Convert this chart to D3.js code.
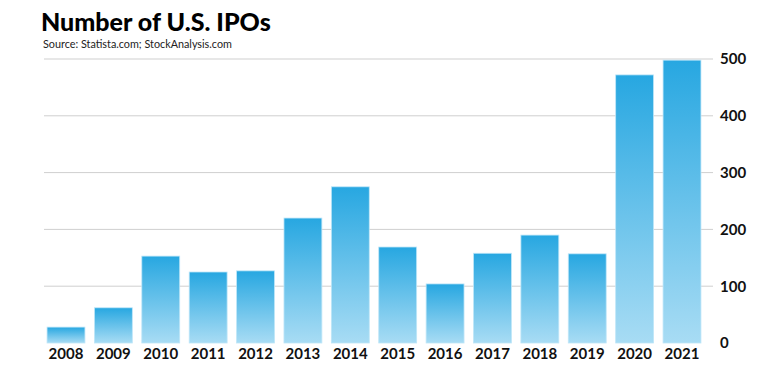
<!DOCTYPE html>
<html>
<head>
<meta charset="utf-8">
<script src="https://cdn.jsdelivr.net/npm/d3@7"></script>
<style>
  body { margin: 0; background: #fff; }
  text { font-family: "Lato", "Open Sans", sans-serif; }
</style>
</head>
<body>
<div id="chart"></div>
<script>
let years = ["2008","2009","2010","2011","2012","2013","2014","2015","2016","2017","2018","2019","2020","2021"];
let ipos = [28, 62, 153, 125, 127, 220, 275, 169, 104, 158, 190, 157, 472, 498];
let ticks = [0, 100, 200, 300, 400, 500];

let width = 772, height = 384;

let svg = d3.select("#chart")
    .append("svg")
    .attr("width", width)
    .attr("height", height);

let defs = svg.append("defs");
let grad = defs.append("linearGradient")
    .attr("id", "barGrad")
    .attr("x1", 0).attr("y1", 0).attr("x2", 0).attr("y2", 1);
grad.append("stop").attr("offset", "0%").attr("stop-color", "#27a7e1");
grad.append("stop").attr("offset", "100%").attr("stop-color", "#a8dcf4");

let x = d3.scaleBand()
    .domain(years)
    .range([42.3, 705.7])
    .paddingInner(0.2)
    .paddingOuter(0.1);

let y = d3.scaleLinear()
    .domain([0, 500])
    .range([343, 59]);

// gridlines
svg.append("g")
    .selectAll("line")
    .data(ticks.filter(d => d > 0))
    .enter().append("line")
    .attr("x1", 44)
    .attr("x2", 713)
    .attr("y1", d => y(d))
    .attr("y2", d => y(d))
    .attr("stroke", "#cfcfcf")
    .attr("stroke-width", 1);

// bars
svg.selectAll("rect.bar")
    .data(years)
    .enter().append("rect")
    .attr("class", "bar")
    .attr("x", d => x(d))
    .attr("y", (d, i) => y(ipos[i]))
    .attr("width", x.bandwidth())
    .attr("height", (d, i) => y(0) - y(ipos[i]))
    .attr("fill", "url(#barGrad)")
    .attr("stroke", "#bfe6f8")
    .attr("stroke-width", 0.8);

// right axis
let yAxis = svg.append("g")
    .attr("transform", "translate(720,0)")
    .call(d3.axisRight(y).tickValues(ticks).tickSize(0).tickPadding(0));
yAxis.select(".domain").remove();
yAxis.selectAll("text")
    .attr("text-anchor", "start")
    .style("font-size", "15px")
    .style("font-weight", "bold")
    .style("fill", "#111");

// bottom axis
let xAxis = svg.append("g")
    .attr("transform", "translate(0,348)")
    .call(d3.axisBottom(x).tickSize(0).tickPadding(0));
xAxis.select(".domain").remove();
xAxis.selectAll("text")
    .attr("dy", "0.71em")
    .style("font-size", "15px")
    .style("font-weight", "bold")
    .style("fill", "#111");

// title
svg.append("text")
    .attr("x", 41)
    .attr("y", 31)
    .text("Number of U.S. IPOs")
    .style("font-size", "25px")
    .style("font-weight", "900")
    .style("fill", "#000");

svg.append("text")
    .attr("x", 43)
    .attr("y", 48)
    .text("Source: Statista.com; StockAnalysis.com")
    .style("font-size", "10.8px")
    .style("fill", "#222");
</script>
</body>
</html>
